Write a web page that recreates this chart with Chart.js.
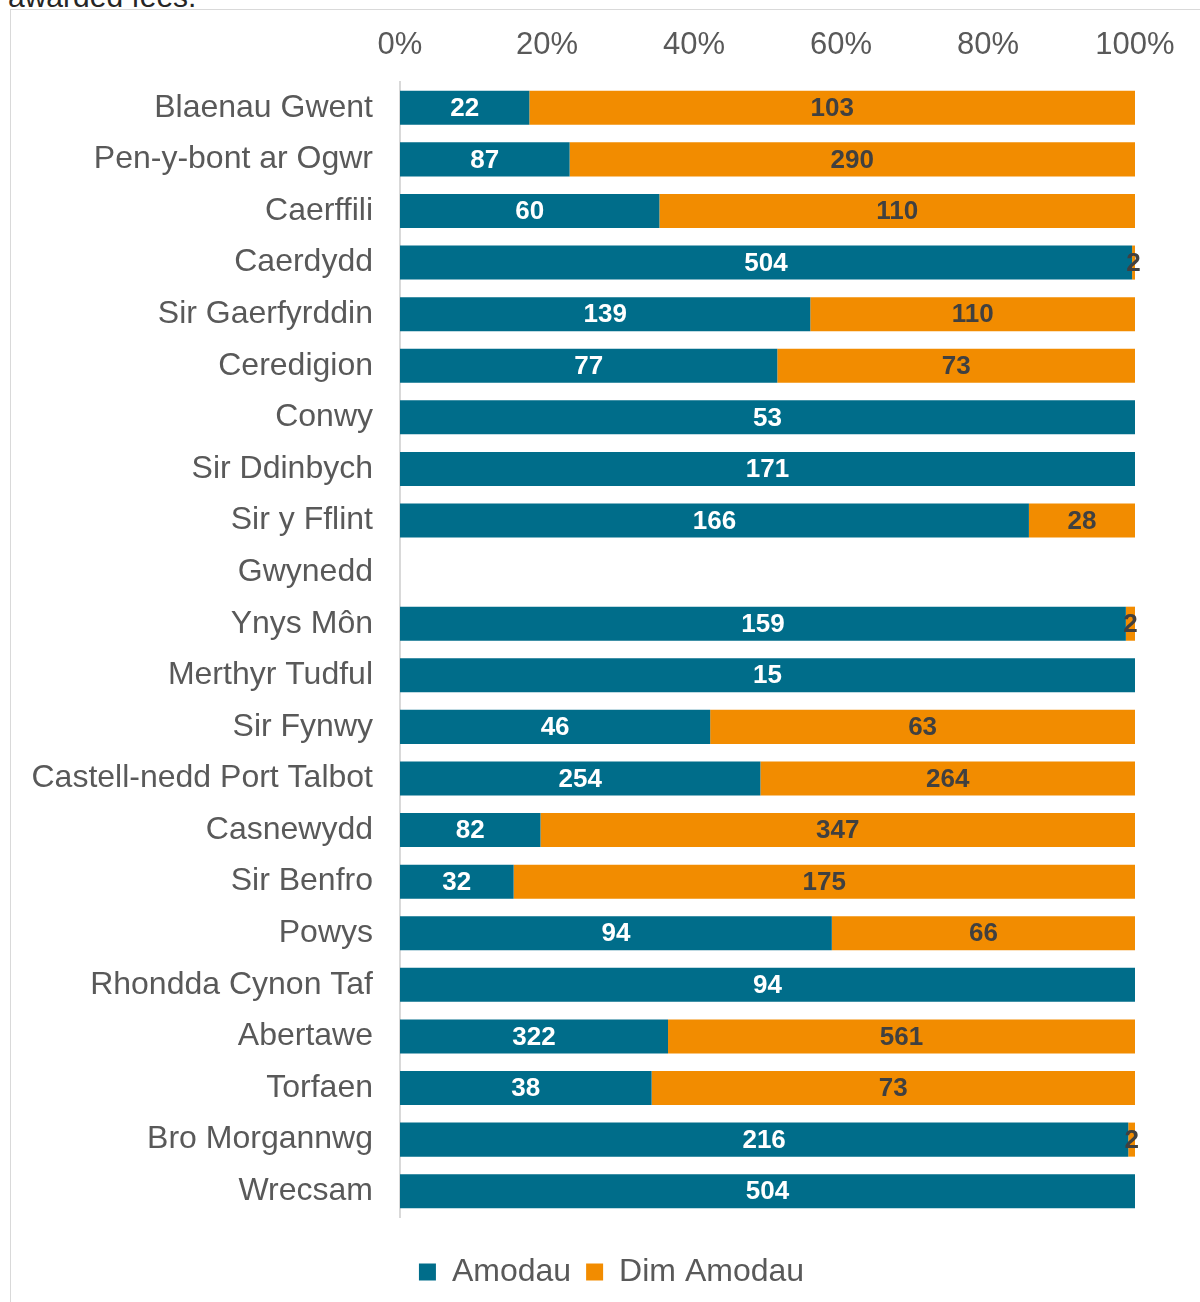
<!DOCTYPE html>
<html>
<head>
<meta charset="utf-8">
<script src="https://cdn.jsdelivr.net/npm/chart.js@4"></script>
<style>
  html, body { margin: 0; padding: 0; background: #fff; overflow: hidden; }
  #frame { position: absolute; left: 10px; top: 9px; width: 1300px; height: 1400px; border: 1px solid #d9d9d9; box-sizing: border-box; }
  #caption { position: absolute; left: 8px; top: -20px; font-family: "Liberation Sans", Arial, sans-serif; font-size: 30px; color: #262626; white-space: nowrap; }
  #wrap { position: absolute; left: 0; top: 0; width: 1200px; height: 1302px; }
</style>
</head>
<body>
<div id="caption">awarded fees.</div>
<div id="frame"></div>
<div id="wrap"><canvas id="c" width="1200" height="1302"></canvas></div>
<script>
const categories = ["Blaenau Gwent","Pen-y-bont ar Ogwr","Caerffili","Caerdydd","Sir Gaerfyrddin","Ceredigion","Conwy","Sir Ddinbych","Sir y Fflint","Gwynedd","Ynys Môn","Merthyr Tudful","Sir Fynwy","Castell-nedd Port Talbot","Casnewydd","Sir Benfro","Powys","Rhondda Cynon Taf","Abertawe","Torfaen","Bro Morgannwg","Wrecsam"];
const amodau    = [22, 87, 60, 504, 139, 77, 53, 171, 166, null, 159, 15, 46, 254, 82, 32, 94, 94, 322, 38, 216, 504];
const dimAmodau = [103, 290, 110, 2, 110, 73, 0, 0, 28, null, 2, 0, 63, 264, 347, 175, 66, 0, 561, 73, 2, 0];
const tickLabels = ["0%","20%","40%","60%","80%","100%"];
const seriesNames = ["Amodau", "Dim Amodau"];

const totals = amodau.map((v, i) => (v == null ? null : v + (dimAmodau[i] || 0)));
const pct = arr => arr.map((v, i) => (v == null || !totals[i]) ? null : v / totals[i] * 100);

const FONT = "'Liberation Sans', Arial, sans-serif";
const TEAL = "#006d8a";
const ORANGE = "#f28c00";

const labelPlugin = {
  id: 'segLabels',
  afterDatasetsDraw(chart) {
    const ctx = chart.ctx;
    ctx.save();
    ctx.font = "bold 26px " + FONT;
    ctx.textAlign = "center";
    ctx.textBaseline = "middle";
    chart.data.datasets.forEach((ds, di) => {
      const meta = chart.getDatasetMeta(di);
      const raw = di === 0 ? amodau : dimAmodau;
      meta.data.forEach((el, i) => {
        const v = raw[i];
        if (v == null || v === 0) return;
        const x = (el.x + el.base) / 2;
        ctx.fillStyle = di === 0 ? "#ffffff" : "#404040";
        ctx.fillText(String(v), x, el.y + 1);
      });
    });
    ctx.restore();
  }
};

// shift the legend block so it is placed like the original
const legendShift = {
  id: 'legendShift',
  afterLayout(chart) {
    const lg = chart.legend;
    if (!lg) return;
    const dx = 44, dy = 24;
    lg.left += dx; lg.right += dx; lg.top += dy; lg.bottom += dy;
  }
};

new Chart(document.getElementById('c'), {
  type: 'bar',
  data: {
    labels: categories,
    datasets: [
      { label: seriesNames[0], data: pct(amodau), backgroundColor: TEAL, borderWidth: 0, barPercentage: 0.66, categoryPercentage: 1.0 },
      { label: seriesNames[1], data: pct(dimAmodau), backgroundColor: ORANGE, borderWidth: 0, barPercentage: 0.66, categoryPercentage: 1.0 }
    ]
  },
  options: {
    indexAxis: 'y',
    responsive: false,
    animation: false,
    layout: { padding: { left: 0, right: 65, top: 0, bottom: 28 } },
    plugins: {
      tooltip: { enabled: false },
      legend: {
        position: 'bottom',
        labels: {
          font: { family: FONT, size: 32 },
          color: '#595959',
          boxWidth: 17,
          boxHeight: 17,
          padding: 15
        }
      }
    },
    scales: {
      x: {
        position: 'top',
        stacked: true,
        min: 0,
        max: 100,
        afterFit(scale) { scale.height = 82; },
        afterBuildTicks(scale) { scale.ticks = [0,20,40,60,80,100].map(v => ({ value: v })); },
        grid: { display: false, drawTicks: false },
        border: { display: false },
        ticks: {
          font: { family: FONT, size: 31 },
          color: '#595959',
          padding: 18,
          maxRotation: 0,
          callback: (v, i) => tickLabels[i]
        }
      },
      y: {
        stacked: true,
        afterFit(scale) { scale.width = 400; },
        grid: { display: false, drawTicks: false },
        border: { display: true, color: '#d9d9d9', width: 2 },
        ticks: {
          font: { family: FONT, size: 32 },
          color: '#595959',
          padding: 27,
          autoSkip: false
        }
      }
    }
  },
  plugins: [labelPlugin, legendShift]
});
</script>
</body>
</html>
